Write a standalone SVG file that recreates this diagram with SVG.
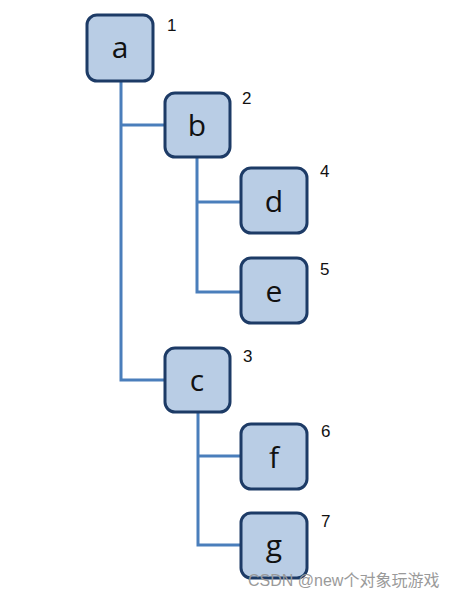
<svg xmlns="http://www.w3.org/2000/svg" width="450" height="599" viewBox="0 0 450 599">
<style>
.box{fill:#b9cde5;stroke:#1d3b66;stroke-width:3}
.lbl{font-family:"Open Sans","Liberation Sans",sans-serif;font-size:30px;fill:#111;text-anchor:middle}
.num{font-family:"Liberation Sans",sans-serif;font-size:17px;fill:#111}
.conn{fill:none;stroke:#4a7ebb;stroke-width:3}
.wm{font-family:"Liberation Sans","Noto Sans CJK SC",sans-serif;font-size:16px;fill:#9a9a9a}
</style>
<rect width="450" height="599" fill="#fff"/>
<g id="connectors">
<path class="conn" d="M121 81 V380 H165"/>
<path class="conn" d="M121 125 H165"/>
<path class="conn" d="M197 157 V292 H241"/>
<path class="conn" d="M197 202 H241"/>
<path class="conn" d="M198 412 V545 H241"/>
<path class="conn" d="M198 456 H241"/>
</g>
<g id="node-a"><rect class="box" x="87" y="15" width="66" height="66" rx="10"/><text class="lbl" x="120" y="58">a</text><text class="num" x="167" y="31">1</text></g>
<g id="node-b"><rect class="box" x="165" y="93" width="65" height="64" rx="10"/><text class="lbl" x="197" y="136">b</text><text class="num" x="242" y="104">2</text></g>
<g id="node-d"><rect class="box" x="241" y="168" width="66" height="65" rx="10"/><text class="lbl" x="274" y="212">d</text><text class="num" x="320" y="177">4</text></g>
<g id="node-e"><rect class="box" x="241" y="258" width="66" height="65" rx="10"/><text class="lbl" x="274" y="302">e</text><text class="num" x="320" y="275">5</text></g>
<g id="node-c"><rect class="box" x="165" y="348" width="65" height="64" rx="10"/><text class="lbl" x="197" y="391">c</text><text class="num" x="243" y="362">3</text></g>
<g id="node-f"><rect class="box" x="241" y="424" width="66" height="65" rx="10"/><text class="lbl" x="274" y="468">f</text><text class="num" x="321" y="437">6</text></g>
<g id="node-g"><rect class="box" x="241" y="513" width="66" height="65" rx="10"/><text class="lbl" x="274" y="556">g</text><text class="num" x="321" y="527">7</text></g>
<text class="wm" x="248" y="586">CSDN @new个对象玩游戏</text>
</svg>
